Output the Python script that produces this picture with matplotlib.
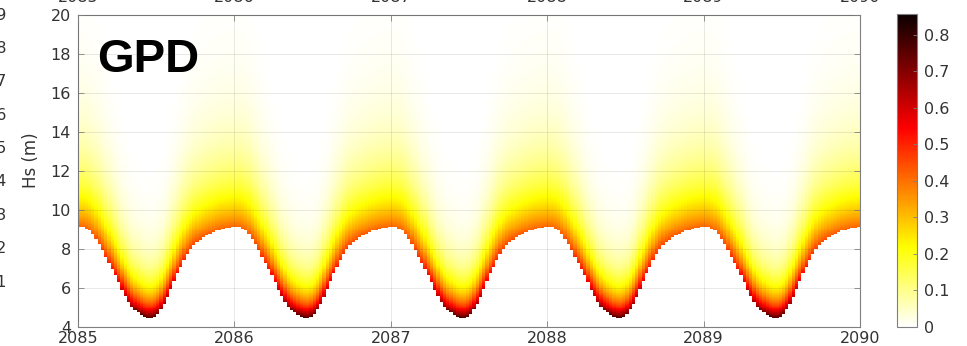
import numpy as np
import matplotlib

matplotlib.use("Agg")
import matplotlib.pyplot as plt

# x / y ticks
years = [2085, 2086, 2087, 2088, 2089, 2090]
hs_ticks = [4, 6, 8, 10, 12, 14, 16, 18, 20]
cbar_ticks = [0, 0.1, 0.2, 0.3, 0.4, 0.5, 0.6, 0.7, 0.8]
cbar_labels = ["0", "0.1", "0.2", "0.3", "0.4", "0.5", "0.6", "0.7", "0.8"]
# clipped colorbar labels of the neighbouring panel (left edge)
left_labels = ["0.9", "0.8", "0.7", "0.6", "0.5", "0.4", "0.3", "0.2", "0.1"]

steps_per_year = 48

# GPD threshold u (m), one seasonal cycle, read at ~weekly steps
threshold = [9.14, 9.13, 9.05, 8.93, 8.75, 8.52, 8.25, 7.95, 7.62, 7.30, 7.00, 6.65,
             6.28, 5.92, 5.60, 5.30, 5.05, 4.87, 4.74, 4.62, 4.52, 4.46, 4.45, 4.52,
             4.66, 4.88, 5.18, 5.55, 5.95, 6.35, 6.75, 7.12, 7.45, 7.75, 8.00, 8.20,
             8.35, 8.47, 8.58, 8.68, 8.77, 8.85, 8.93, 9.00, 9.05, 9.09, 9.12, 9.14]
# GPD scale (m) at the same steps
scale = [2.40, 2.40, 2.38, 2.35, 2.31, 2.25, 2.19, 2.12, 2.04, 1.97, 1.90, 1.82,
         1.73, 1.64, 1.57, 1.50, 1.44, 1.40, 1.37, 1.34, 1.32, 1.30, 1.30, 1.32,
         1.35, 1.40, 1.47, 1.56, 1.65, 1.75, 1.84, 1.93, 2.00, 2.07, 2.13, 2.18,
         2.21, 2.24, 2.27, 2.29, 2.31, 2.33, 2.35, 2.37, 2.38, 2.39, 2.40, 2.40]
shape = 0.02
vmax = 0.857

n_years = len(years) - 1
u = np.tile(threshold, n_years)
sigma = np.tile(scale, n_years)
t_edges = years[0] + np.arange(n_years * steps_per_year + 1) / steps_per_year
hs_edges = np.linspace(hs_ticks[0], hs_ticks[-1], 321)
hs_mid = 0.5 * (hs_edges[:-1] + hs_edges[1:])

# GPD density of Hs above threshold, for every time step
z = (hs_mid[:, None] - u[None, :]) / sigma[None, :]
with np.errstate(invalid="ignore", divide="ignore"):
    dens = (1.0 / sigma[None, :]) * (1.0 + shape * z) ** (-1.0 / shape - 1.0)
dens = np.ma.masked_where(z < 0, dens)

plt.rcParams["font.family"] = "DejaVu Sans"
text_col = "#333333"
edge_col = "#7f7f7f"

fig = plt.figure(figsize=(9.67, 3.46), dpi=100)
ax = fig.add_axes([78 / 967, 1 - 327 / 346, 782 / 967, 312 / 346])
cax = fig.add_axes([897 / 967, 1 - 327 / 346, 20 / 967, 313 / 346])

mesh = ax.pcolormesh(t_edges, hs_edges, dens, cmap="hot_r", vmin=0, vmax=vmax,
                     shading="flat", rasterized=True)

ax.set_xlim(years[0], years[-1])
ax.set_ylim(hs_ticks[0], hs_ticks[-1])
ax.set_xticks(years)
ax.set_yticks(hs_ticks)
ax.grid(True, color="#262626", alpha=0.12, lw=0.6)
ax.set_axisbelow(False)
ax.tick_params(direction="in", length=4, width=0.6, color=edge_col,
               labelcolor=text_col, labelsize=11.5, top=True, right=True, pad=5)
ax.tick_params(axis="x", pad=3)
for s in ax.spines.values():
    s.set_color(edge_col)
    s.set_linewidth(0.8)

ax.set_ylabel("Hs (m)", fontsize=12, color=text_col, va="center")
ax.yaxis.set_label_coords(-0.060, 0.535)

ax.text(2085.125, 17.1, "GPD", fontsize=34, fontweight="bold",
        family="Liberation Sans", color="black", va="baseline", ha="left")

cb = fig.colorbar(mesh, cax=cax, ticks=cbar_ticks)
cb.ax.set_yticklabels(cbar_labels)
cb.outline.set_edgecolor(edge_col)
cb.outline.set_linewidth(0.8)
cb.ax.tick_params(direction="in", length=3, width=0.6, color=edge_col,
                  labelcolor=text_col, labelsize=11.5, pad=5)

# clipped tick labels of the panels around this one
for yr in years:
    fx = ax.transData.transform((yr, hs_ticks[0]))[0] / fig.bbox.width
    fig.text(fx, 1 - 2.0 / 346, str(yr), ha="center", va="baseline",
             fontsize=11.5, color=text_col)
for i, lab in enumerate(left_labels):
    fig.text(6 / 967, 1 - (15 + 33.4 * i) / 346, lab, ha="right", va="center",
             fontsize=11.5, color=text_col)

fig.savefig("out.png", dpi=100)
